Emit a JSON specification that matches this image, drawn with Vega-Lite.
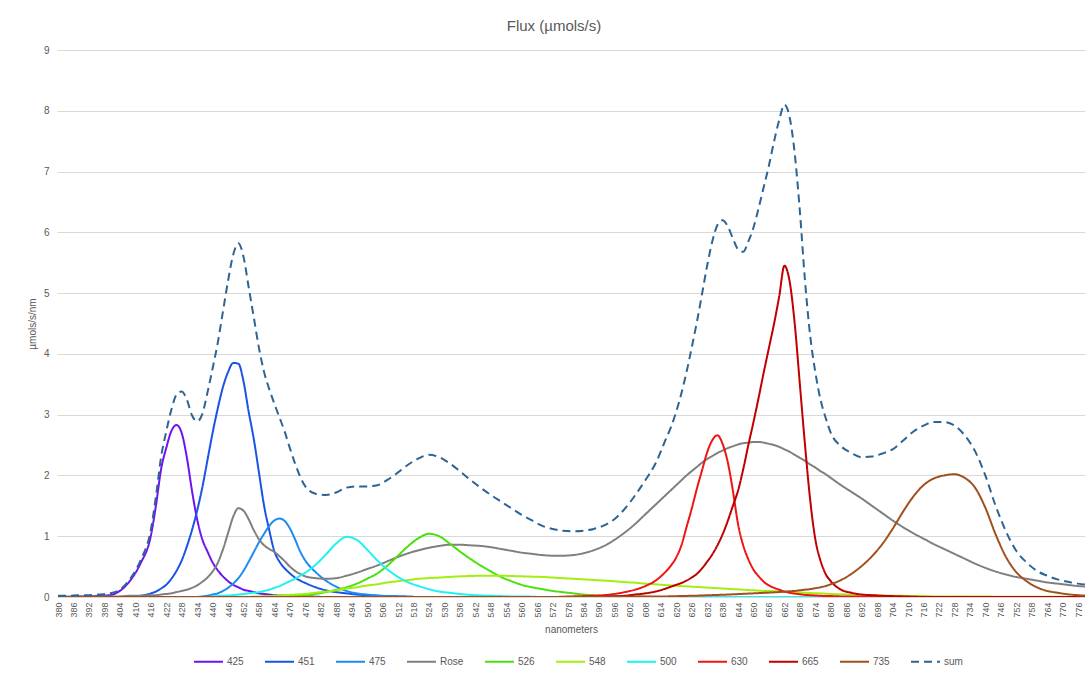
{
  "$schema": "https://vega.github.io/schema/vega-lite/v6.json",
  "width": 1028,
  "height": 547,
  "autosize": {"type": "none"},
  "padding": {"left": 57, "top": 50, "right": 4, "bottom": 79},
  "background": "white",
  "title": {"text": "Flux (µmols/s)", "fontSize": 15, "font": "Liberation Sans", "fontWeight": "normal", "color": "#595959", "anchor": "middle", "dx": -17, "offset": 11},
  "config": {"view": {"stroke": null}, "font": "Liberation Sans"},
  "data": {"values": [
    {"nm":380,"425":0,"451":0,"475":0,"Rose":0.01,"526":0,"548":0,"500":0,"630":0,"665":0,"735":0,"sum":0.02},
    {"nm":384,"425":0,"451":0,"475":0,"Rose":0.01,"526":0,"548":0,"500":0,"630":0,"665":0,"735":0,"sum":0.02},
    {"nm":388,"425":0.01,"451":0,"475":0,"Rose":0.01,"526":0,"548":0,"500":0,"630":0,"665":0,"735":0,"sum":0.03},
    {"nm":392,"425":0.01,"451":0,"475":0,"Rose":0.01,"526":0,"548":0,"500":0,"630":0,"665":0,"735":0,"sum":0.03},
    {"nm":396,"425":0.02,"451":0,"475":0,"Rose":0.01,"526":0,"548":0,"500":0,"630":0,"665":0,"735":0,"sum":0.04},
    {"nm":400,"425":0.03,"451":0,"475":0,"Rose":0.01,"526":0,"548":0,"500":0,"630":0,"665":0,"735":0,"sum":0.06},
    {"nm":404,"425":0.1,"451":0,"475":0,"Rose":0.01,"526":0,"548":0,"500":0,"630":0,"665":0,"735":0,"sum":0.12},
    {"nm":408,"425":0.27,"451":0.01,"475":0,"Rose":0.02,"526":0,"548":0,"500":0,"630":0,"665":0,"735":0,"sum":0.3},
    {"nm":412,"425":0.55,"451":0.02,"475":0,"Rose":0.02,"526":0,"548":0,"500":0,"630":0,"665":0,"735":0,"sum":0.6},
    {"nm":416,"425":1.0,"451":0.06,"475":0,"Rose":0.03,"526":0,"548":0,"500":0,"630":0,"665":0,"735":0,"sum":1.1},
    {"nm":418,"425":1.5,"451":0.09,"475":0,"Rose":0.03,"526":0,"548":0,"500":0,"630":0,"665":0,"735":0,"sum":1.65},
    {"nm":420,"425":2.1,"451":0.14,"475":0,"Rose":0.04,"526":0,"548":0,"500":0,"630":0,"665":0,"735":0,"sum":2.3},
    {"nm":422,"425":2.45,"451":0.2,"475":0,"Rose":0.05,"526":0,"548":0,"500":0,"630":0,"665":0,"735":0,"sum":2.72},
    {"nm":424,"425":2.73,"451":0.3,"475":0,"Rose":0.06,"526":0,"548":0,"500":0,"630":0,"665":0,"735":0,"sum":3.08},
    {"nm":426,"425":2.83,"451":0.43,"475":0,"Rose":0.08,"526":0,"548":0,"500":0,"630":0,"665":0,"735":0,"sum":3.33},
    {"nm":428,"425":2.7,"451":0.6,"475":0,"Rose":0.1,"526":0,"548":0,"500":0,"630":0,"665":0,"735":0,"sum":3.38},
    {"nm":430,"425":2.3,"451":0.83,"475":0,"Rose":0.12,"526":0,"548":0,"500":0,"630":0,"665":0,"735":0,"sum":3.25},
    {"nm":432,"425":1.75,"451":1.1,"475":0,"Rose":0.15,"526":0,"548":0,"500":0,"630":0,"665":0,"735":0,"sum":2.99},
    {"nm":434,"425":1.28,"451":1.42,"475":0,"Rose":0.19,"526":0,"548":0,"500":0,"630":0,"665":0,"735":0,"sum":2.89},
    {"nm":436,"425":0.95,"451":1.8,"475":0.01,"Rose":0.25,"526":0,"548":0,"500":0,"630":0,"665":0,"735":0,"sum":3.01},
    {"nm":438,"425":0.75,"451":2.25,"475":0.02,"Rose":0.32,"526":0,"548":0,"500":0,"630":0,"665":0,"735":0,"sum":3.36},
    {"nm":440,"425":0.57,"451":2.7,"475":0.04,"Rose":0.42,"526":0,"548":0,"500":0.01,"630":0,"665":0,"735":0,"sum":3.76},
    {"nm":442,"425":0.44,"451":3.1,"475":0.06,"Rose":0.56,"526":0,"548":0,"500":0.015,"630":0,"665":0,"735":0,"sum":4.18},
    {"nm":444,"425":0.34,"451":3.45,"475":0.1,"Rose":0.78,"526":0,"548":0,"500":0.02,"630":0,"665":0,"735":0,"sum":4.69},
    {"nm":446,"425":0.26,"451":3.7,"475":0.15,"Rose":1.05,"526":0,"548":0,"500":0.025,"630":0,"665":0,"735":0,"sum":5.2},
    {"nm":448,"425":0.2,"451":3.85,"475":0.22,"Rose":1.32,"526":0,"548":0,"500":0.03,"630":0,"665":0,"735":0,"sum":5.63},
    {"nm":450,"425":0.16,"451":3.84,"475":0.31,"Rose":1.46,"526":0,"548":0,"500":0.04,"630":0,"665":0,"735":0,"sum":5.82},
    {"nm":452,"425":0.12,"451":3.55,"475":0.43,"Rose":1.42,"526":0,"548":0,"500":0.05,"630":0,"665":0,"735":0,"sum":5.6},
    {"nm":454,"425":0.1,"451":3.05,"475":0.58,"Rose":1.28,"526":0,"548":0,"500":0.06,"630":0,"665":0,"735":0,"sum":5.1},
    {"nm":456,"425":0.08,"451":2.6,"475":0.74,"Rose":1.1,"526":0,"548":0.01,"500":0.07,"630":0,"665":0,"735":0,"sum":4.6},
    {"nm":458,"425":0.06,"451":2.05,"475":0.9,"Rose":0.95,"526":0,"548":0.01,"500":0.08,"630":0,"665":0,"735":0,"sum":4.1},
    {"nm":460,"425":0.05,"451":1.5,"475":1.04,"Rose":0.85,"526":0.01,"548":0.01,"500":0.1,"630":0,"665":0,"735":0,"sum":3.7},
    {"nm":462,"425":0.04,"451":1.1,"475":1.17,"Rose":0.79,"526":0.01,"548":0.015,"500":0.12,"630":0,"665":0,"735":0,"sum":3.42},
    {"nm":464,"425":0.03,"451":0.75,"475":1.26,"Rose":0.74,"526":0.01,"548":0.02,"500":0.15,"630":0,"665":0,"735":0,"sum":3.18},
    {"nm":466,"425":0.025,"451":0.58,"475":1.29,"Rose":0.67,"526":0.01,"548":0.025,"500":0.18,"630":0,"665":0,"735":0,"sum":2.95},
    {"nm":468,"425":0.02,"451":0.47,"475":1.25,"Rose":0.59,"526":0.015,"548":0.03,"500":0.22,"630":0,"665":0,"735":0,"sum":2.72},
    {"nm":470,"425":0.015,"451":0.39,"475":1.13,"Rose":0.5,"526":0.02,"548":0.035,"500":0.26,"630":0,"665":0,"735":0,"sum":2.45},
    {"nm":472,"425":0.01,"451":0.32,"475":0.95,"Rose":0.43,"526":0.02,"548":0.04,"500":0.3,"630":0,"665":0,"735":0,"sum":2.2},
    {"nm":474,"425":0.01,"451":0.27,"475":0.75,"Rose":0.38,"526":0.03,"548":0.045,"500":0.35,"630":0,"665":0,"735":0,"sum":1.98},
    {"nm":476,"425":0.01,"451":0.23,"475":0.6,"Rose":0.34,"526":0.03,"548":0.05,"500":0.4,"630":0,"665":0,"735":0,"sum":1.82},
    {"nm":480,"425":0.005,"451":0.16,"475":0.41,"Rose":0.31,"526":0.05,"548":0.07,"500":0.53,"630":0,"665":0,"735":0,"sum":1.7},
    {"nm":484,"425":0,"451":0.11,"475":0.27,"Rose":0.3,"526":0.08,"548":0.09,"500":0.7,"630":0,"665":0,"735":0,"sum":1.68},
    {"nm":488,"425":0,"451":0.08,"475":0.17,"Rose":0.31,"526":0.12,"548":0.11,"500":0.88,"630":0,"665":0,"735":0,"sum":1.72},
    {"nm":492,"425":0,"451":0.06,"475":0.1,"Rose":0.35,"526":0.16,"548":0.14,"500":0.99,"630":0,"665":0,"735":0,"sum":1.8},
    {"nm":496,"425":0,"451":0.04,"475":0.06,"Rose":0.4,"526":0.22,"548":0.16,"500":0.94,"630":0,"665":0,"735":0,"sum":1.82},
    {"nm":500,"425":0,"451":0.03,"475":0.04,"Rose":0.46,"526":0.3,"548":0.19,"500":0.78,"630":0,"665":0,"735":0,"sum":1.82},
    {"nm":504,"425":0,"451":0.02,"475":0.025,"Rose":0.52,"526":0.39,"548":0.21,"500":0.6,"630":0,"665":0,"735":0,"sum":1.84},
    {"nm":508,"425":0,"451":0.015,"475":0.015,"Rose":0.59,"526":0.52,"548":0.24,"500":0.45,"630":0,"665":0,"735":0,"sum":1.93},
    {"nm":512,"425":0,"451":0.01,"475":0.01,"Rose":0.66,"526":0.68,"548":0.26,"500":0.33,"630":0,"665":0,"735":0,"sum":2.05},
    {"nm":516,"425":0,"451":0.005,"475":0.005,"Rose":0.72,"526":0.84,"548":0.28,"500":0.24,"630":0,"665":0,"735":0,"sum":2.18},
    {"nm":520,"425":0,"451":0,"475":0,"Rose":0.77,"526":0.97,"548":0.3,"500":0.18,"630":0,"665":0,"735":0,"sum":2.28},
    {"nm":524,"425":0,"451":0,"475":0,"Rose":0.81,"526":1.04,"548":0.31,"500":0.13,"630":0,"665":0,"735":0,"sum":2.34},
    {"nm":528,"425":0,"451":0,"475":0,"Rose":0.84,"526":1.0,"548":0.32,"500":0.09,"630":0,"665":0,"735":0,"sum":2.3},
    {"nm":532,"425":0,"451":0,"475":0,"Rose":0.86,"526":0.88,"548":0.33,"500":0.07,"630":0,"665":0,"735":0,"sum":2.2},
    {"nm":536,"425":0,"451":0,"475":0,"Rose":0.86,"526":0.75,"548":0.34,"500":0.05,"630":0,"665":0,"735":0,"sum":2.07},
    {"nm":540,"425":0,"451":0,"475":0,"Rose":0.85,"526":0.63,"548":0.345,"500":0.035,"630":0,"665":0,"735":0,"sum":1.93},
    {"nm":544,"425":0,"451":0,"475":0,"Rose":0.84,"526":0.52,"548":0.35,"500":0.025,"630":0,"665":0,"735":0,"sum":1.8},
    {"nm":548,"425":0,"451":0,"475":0,"Rose":0.82,"526":0.42,"548":0.35,"500":0.02,"630":0,"665":0,"735":0,"sum":1.68},
    {"nm":552,"425":0,"451":0,"475":0,"Rose":0.79,"526":0.33,"548":0.35,"500":0.015,"630":0,"665":0,"735":0,"sum":1.57},
    {"nm":556,"425":0,"451":0,"475":0,"Rose":0.76,"526":0.26,"548":0.345,"500":0.01,"630":0,"665":0,"735":0,"sum":1.46},
    {"nm":560,"425":0,"451":0,"475":0,"Rose":0.73,"526":0.2,"548":0.34,"500":0.01,"630":0,"665":0,"735":0,"sum":1.35},
    {"nm":564,"425":0,"451":0,"475":0,"Rose":0.71,"526":0.16,"548":0.335,"500":0.005,"630":0,"665":0,"735":0,"sum":1.26},
    {"nm":568,"425":0,"451":0,"475":0,"Rose":0.69,"526":0.13,"548":0.33,"500":0,"630":0,"665":0,"735":0,"sum":1.17},
    {"nm":572,"425":0,"451":0,"475":0,"Rose":0.68,"526":0.1,"548":0.32,"500":0,"630":0,"665":0,"735":0,"sum":1.12},
    {"nm":576,"425":0,"451":0,"475":0,"Rose":0.68,"526":0.08,"548":0.31,"500":0,"630":0.005,"665":0,"735":0,"sum":1.09},
    {"nm":580,"425":0,"451":0,"475":0,"Rose":0.69,"526":0.06,"548":0.3,"500":0,"630":0.01,"665":0,"735":0,"sum":1.08},
    {"nm":584,"425":0,"451":0,"475":0,"Rose":0.72,"526":0.04,"548":0.29,"500":0,"630":0.015,"665":0,"735":0,"sum":1.09},
    {"nm":588,"425":0,"451":0,"475":0,"Rose":0.77,"526":0.03,"548":0.28,"500":0,"630":0.02,"665":0,"735":0,"sum":1.12},
    {"nm":592,"425":0,"451":0,"475":0,"Rose":0.84,"526":0.02,"548":0.27,"500":0,"630":0.03,"665":0.005,"735":0,"sum":1.18},
    {"nm":596,"425":0,"451":0,"475":0,"Rose":0.94,"526":0.015,"548":0.26,"500":0,"630":0.05,"665":0.01,"735":0,"sum":1.28},
    {"nm":600,"425":0,"451":0,"475":0,"Rose":1.06,"526":0.01,"548":0.245,"500":0,"630":0.08,"665":0.02,"735":0.005,"sum":1.45},
    {"nm":604,"425":0,"451":0,"475":0,"Rose":1.2,"526":0.01,"548":0.235,"500":0,"630":0.12,"665":0.04,"735":0.005,"sum":1.67},
    {"nm":608,"425":0,"451":0,"475":0,"Rose":1.36,"526":0.005,"548":0.22,"500":0,"630":0.18,"665":0.06,"735":0.01,"sum":1.92},
    {"nm":612,"425":0,"451":0,"475":0,"Rose":1.52,"526":0,"548":0.21,"500":0,"630":0.27,"665":0.09,"735":0.01,"sum":2.2},
    {"nm":616,"425":0,"451":0,"475":0,"Rose":1.68,"526":0,"548":0.195,"500":0,"630":0.42,"665":0.14,"735":0.01,"sum":2.6},
    {"nm":618,"425":0,"451":0,"475":0,"Rose":1.76,"526":0,"548":0.19,"500":0,"630":0.52,"665":0.17,"735":0.012,"sum":2.8},
    {"nm":620,"425":0,"451":0,"475":0,"Rose":1.84,"526":0,"548":0.185,"500":0,"630":0.65,"665":0.2,"735":0.014,"sum":3.05},
    {"nm":622,"425":0,"451":0,"475":0,"Rose":1.92,"526":0,"548":0.18,"500":0,"630":0.85,"665":0.23,"735":0.016,"sum":3.35},
    {"nm":624,"425":0,"451":0,"475":0,"Rose":2.0,"526":0,"548":0.175,"500":0,"630":1.15,"665":0.27,"735":0.018,"sum":3.7},
    {"nm":626,"425":0,"451":0,"475":0,"Rose":2.07,"526":0,"548":0.17,"500":0,"630":1.45,"665":0.32,"735":0.02,"sum":4.1},
    {"nm":628,"425":0,"451":0,"475":0,"Rose":2.14,"526":0,"548":0.165,"500":0,"630":1.78,"665":0.38,"735":0.022,"sum":4.52},
    {"nm":630,"425":0,"451":0,"475":0,"Rose":2.21,"526":0,"548":0.16,"500":0,"630":2.08,"665":0.47,"735":0.025,"sum":4.98},
    {"nm":632,"425":0,"451":0,"475":0,"Rose":2.27,"526":0,"548":0.155,"500":0,"630":2.38,"665":0.58,"735":0.028,"sum":5.45},
    {"nm":634,"425":0,"451":0,"475":0,"Rose":2.32,"526":0,"548":0.15,"500":0,"630":2.58,"665":0.7,"735":0.031,"sum":5.85},
    {"nm":636,"425":0,"451":0,"475":0,"Rose":2.37,"526":0,"548":0.145,"500":0,"630":2.66,"665":0.85,"735":0.034,"sum":6.12},
    {"nm":638,"425":0,"451":0,"475":0,"Rose":2.41,"526":0,"548":0.14,"500":0,"630":2.52,"665":1.03,"735":0.037,"sum":6.2},
    {"nm":640,"425":0,"451":0,"475":0,"Rose":2.45,"526":0,"548":0.135,"500":0,"630":2.22,"665":1.25,"735":0.04,"sum":6.1},
    {"nm":642,"425":0,"451":0,"475":0,"Rose":2.48,"526":0,"548":0.13,"500":0,"630":1.75,"665":1.5,"735":0.044,"sum":5.9},
    {"nm":644,"425":0,"451":0,"475":0,"Rose":2.51,"526":0,"548":0.125,"500":0,"630":1.2,"665":1.75,"735":0.048,"sum":5.72},
    {"nm":646,"425":0,"451":0,"475":0,"Rose":2.53,"526":0,"548":0.12,"500":0,"630":0.85,"665":2.1,"735":0.052,"sum":5.68},
    {"nm":648,"425":0,"451":0,"475":0,"Rose":2.54,"526":0,"548":0.115,"500":0,"630":0.62,"665":2.5,"735":0.056,"sum":5.85},
    {"nm":650,"425":0,"451":0,"475":0,"Rose":2.55,"526":0,"548":0.11,"500":0,"630":0.45,"665":2.88,"735":0.06,"sum":6.08},
    {"nm":652,"425":0,"451":0,"475":0,"Rose":2.55,"526":0,"548":0.105,"500":0,"630":0.34,"665":3.28,"735":0.064,"sum":6.4},
    {"nm":654,"425":0,"451":0,"475":0,"Rose":2.54,"526":0,"548":0.1,"500":0,"630":0.25,"665":3.7,"735":0.068,"sum":6.75},
    {"nm":656,"425":0,"451":0,"475":0,"Rose":2.52,"526":0,"548":0.1,"500":0,"630":0.19,"665":4.1,"735":0.072,"sum":7.1},
    {"nm":658,"425":0,"451":0,"475":0,"Rose":2.5,"526":0,"548":0.095,"500":0,"630":0.15,"665":4.5,"735":0.077,"sum":7.5},
    {"nm":660,"425":0,"451":0,"475":0,"Rose":2.47,"526":0,"548":0.09,"500":0,"630":0.12,"665":4.95,"735":0.082,"sum":7.85},
    {"nm":662,"425":0,"451":0,"475":0,"Rose":2.43,"526":0,"548":0.085,"500":0,"630":0.09,"665":5.45,"735":0.088,"sum":8.1},
    {"nm":664,"425":0,"451":0,"475":0,"Rose":2.39,"526":0,"548":0.08,"500":0,"630":0.07,"665":5.2,"735":0.094,"sum":7.9},
    {"nm":666,"425":0,"451":0,"475":0,"Rose":2.34,"526":0,"548":0.078,"500":0,"630":0.055,"665":4.5,"735":0.1,"sum":7.3},
    {"nm":668,"425":0,"451":0,"475":0,"Rose":2.29,"526":0,"548":0.075,"500":0,"630":0.045,"665":3.5,"735":0.11,"sum":6.35},
    {"nm":670,"425":0,"451":0,"475":0,"Rose":2.24,"526":0,"548":0.07,"500":0,"630":0.035,"665":2.5,"735":0.12,"sum":5.2},
    {"nm":672,"425":0,"451":0,"475":0,"Rose":2.18,"526":0,"548":0.065,"500":0,"630":0.03,"665":1.6,"735":0.13,"sum":4.3},
    {"nm":674,"425":0,"451":0,"475":0,"Rose":2.13,"526":0,"548":0.062,"500":0,"630":0.025,"665":0.95,"735":0.145,"sum":3.7},
    {"nm":676,"425":0,"451":0,"475":0,"Rose":2.07,"526":0,"548":0.06,"500":0,"630":0.02,"665":0.6,"735":0.16,"sum":3.25},
    {"nm":678,"425":0,"451":0,"475":0,"Rose":2.02,"526":0,"548":0.055,"500":0,"630":0.015,"665":0.38,"735":0.18,"sum":2.95},
    {"nm":680,"425":0,"451":0,"475":0,"Rose":1.96,"526":0,"548":0.05,"500":0,"630":0.015,"665":0.26,"735":0.21,"sum":2.7},
    {"nm":684,"425":0,"451":0,"475":0,"Rose":1.84,"526":0,"548":0.045,"500":0,"630":0.01,"665":0.12,"735":0.28,"sum":2.48},
    {"nm":688,"425":0,"451":0,"475":0,"Rose":1.73,"526":0,"548":0.04,"500":0,"630":0.01,"665":0.07,"735":0.38,"sum":2.37},
    {"nm":692,"425":0,"451":0,"475":0,"Rose":1.62,"526":0,"548":0.035,"500":0,"630":0.005,"665":0.04,"735":0.51,"sum":2.3},
    {"nm":696,"425":0,"451":0,"475":0,"Rose":1.5,"526":0,"548":0.03,"500":0,"630":0,"665":0.03,"735":0.67,"sum":2.31},
    {"nm":700,"425":0,"451":0,"475":0,"Rose":1.38,"526":0,"548":0.025,"500":0,"630":0,"665":0.02,"735":0.87,"sum":2.36},
    {"nm":704,"425":0,"451":0,"475":0,"Rose":1.26,"526":0,"548":0.02,"500":0,"630":0,"665":0.015,"735":1.12,"sum":2.43},
    {"nm":708,"425":0,"451":0,"475":0,"Rose":1.15,"526":0,"548":0.02,"500":0,"630":0,"665":0.01,"735":1.4,"sum":2.57},
    {"nm":712,"425":0,"451":0,"475":0,"Rose":1.05,"526":0,"548":0.015,"500":0,"630":0,"665":0.005,"735":1.65,"sum":2.72},
    {"nm":716,"425":0,"451":0,"475":0,"Rose":0.96,"526":0,"548":0.015,"500":0,"630":0,"665":0,"735":1.84,"sum":2.82},
    {"nm":720,"425":0,"451":0,"475":0,"Rose":0.87,"526":0,"548":0.01,"500":0,"630":0,"665":0,"735":1.95,"sum":2.88},
    {"nm":724,"425":0,"451":0,"475":0,"Rose":0.79,"526":0,"548":0.01,"500":0,"630":0,"665":0,"735":2.0,"sum":2.88},
    {"nm":728,"425":0,"451":0,"475":0,"Rose":0.71,"526":0,"548":0.01,"500":0,"630":0,"665":0,"735":2.02,"sum":2.82},
    {"nm":732,"425":0,"451":0,"475":0,"Rose":0.63,"526":0,"548":0.01,"500":0,"630":0,"665":0,"735":1.96,"sum":2.66},
    {"nm":736,"425":0,"451":0,"475":0,"Rose":0.55,"526":0,"548":0.01,"500":0,"630":0,"665":0,"735":1.8,"sum":2.4},
    {"nm":740,"425":0,"451":0,"475":0,"Rose":0.48,"526":0,"548":0.01,"500":0,"630":0,"665":0,"735":1.47,"sum":2.0},
    {"nm":744,"425":0,"451":0,"475":0,"Rose":0.42,"526":0,"548":0.005,"500":0,"630":0,"665":0,"735":1.03,"sum":1.5},
    {"nm":748,"425":0,"451":0,"475":0,"Rose":0.37,"526":0,"548":0.005,"500":0,"630":0,"665":0,"735":0.66,"sum":1.08},
    {"nm":752,"425":0,"451":0,"475":0,"Rose":0.33,"526":0,"548":0.005,"500":0,"630":0,"665":0,"735":0.41,"sum":0.76},
    {"nm":756,"425":0,"451":0,"475":0,"Rose":0.3,"526":0,"548":0.005,"500":0,"630":0,"665":0,"735":0.26,"sum":0.57},
    {"nm":760,"425":0,"451":0,"475":0,"Rose":0.27,"526":0,"548":0.005,"500":0,"630":0,"665":0,"735":0.16,"sum":0.43},
    {"nm":764,"425":0,"451":0,"475":0,"Rose":0.24,"526":0,"548":0.005,"500":0,"630":0,"665":0,"735":0.1,"sum":0.35},
    {"nm":768,"425":0,"451":0,"475":0,"Rose":0.22,"526":0,"548":0.005,"500":0,"630":0,"665":0,"735":0.07,"sum":0.29},
    {"nm":772,"425":0,"451":0,"475":0,"Rose":0.2,"526":0,"548":0.005,"500":0,"630":0,"665":0,"735":0.045,"sum":0.25},
    {"nm":776,"425":0,"451":0,"475":0,"Rose":0.18,"526":0,"548":0.005,"500":0,"630":0,"665":0,"735":0.03,"sum":0.22},
    {"nm":780,"425":0,"451":0,"475":0,"Rose":0.17,"526":0,"548":0,"500":0,"630":0,"665":0,"735":0.02,"sum":0.2}
  ]},
  "transform": [
    {"fold": ["425","451","475","Rose","526","548","500","630","665","735","sum"], "as": ["series","value"]}
  ],
  "mark": {"type": "line", "interpolate": "monotone", "clip": true},
  "encoding": {
    "x": {"field": "nm", "type": "quantitative", "scale": {"domain": [379.6, 778.7], "nice": false, "zero": false},
      "axis": {"title": "nanometers", "titleFont": "Liberation Sans", "titleFontSize": 10, "titleFontWeight": "normal", "titleColor": "#595959", "titlePadding": 7,
        "values": [380,386,392,398,404,410,416,422,428,434,440,446,452,458,464,470,476,482,488,494,500,506,512,518,524,530,536,542,548,554,560,566,572,578,584,590,596,602,608,614,620,626,632,638,644,650,656,662,668,674,680,686,692,698,704,710,716,722,728,734,740,746,752,758,764,770,776],
        "labelAngle": -90, "labelAlign": "right", "labelBaseline": "middle", "labelFontSize": 9, "labelColor": "#595959", "labelPadding": 5, "labelOverlap": false, "labelBound": false, "labelFlush": false,
        "grid": false, "ticks": false, "domain": true, "domainColor": "#d9d9d9", "domainWidth": 1}},
    "y": {"field": "value", "type": "quantitative", "scale": {"domain": [0, 9], "nice": false},
      "axis": {"title": "µmols/s/nm", "titleFont": "Liberation Sans", "titleFontSize": 10, "titleFontWeight": "normal", "titleColor": "#595959", "titlePadding": 6,
        "values": [0,1,2,3,4,5,6,7,8,9], "labelFontSize": 10, "labelColor": "#595959", "labelPadding": 8,
        "grid": true, "gridColor": "#d9d9d9", "gridWidth": 1, "ticks": false, "domain": false}},
    "color": {"field": "series", "type": "nominal",
      "scale": {"domain": ["425","451","475","Rose","526","548","500","630","665","735","sum"],
        "range": ["#6E14F0","#1A53E6","#1C8CF0","#7F7F7F","#47E10C","#A2EE10","#1FF0F0","#F01414","#C00000","#A0501E","#2D6494"]},
      "legend": {"title": null, "orient": "none", "legendX": 136, "legendY": 596, "direction": "horizontal", "columns": 11, "symbolType": "stroke", "symbolSize": 841, "symbolStrokeWidth": 2, "labelFontSize": 10, "labelColor": "#595959", "labelOffset": 3, "columnPadding": 17}},
    "strokeDash": {"field": "series", "type": "nominal",
      "scale": {"domain": ["425","451","475","Rose","526","548","500","630","665","735","sum"],
        "range": [[1,0],[1,0],[1,0],[1,0],[1,0],[1,0],[1,0],[1,0],[1,0],[1,0],[8,5]]},
      "legend": {"title": null, "orient": "none", "legendX": 136, "legendY": 596, "direction": "horizontal", "columns": 11, "symbolType": "stroke", "symbolSize": 841, "symbolStrokeWidth": 2, "labelFontSize": 10, "labelColor": "#595959", "labelOffset": 3, "columnPadding": 17}},
    "strokeWidth": {"field": "series", "type": "nominal",
      "scale": {"domain": ["425","451","475","Rose","526","548","500","630","665","735","sum"],
        "range": [2,2,2,2,2,2,2,2,2,2,2.6]},
      "legend": null}
  }
}
